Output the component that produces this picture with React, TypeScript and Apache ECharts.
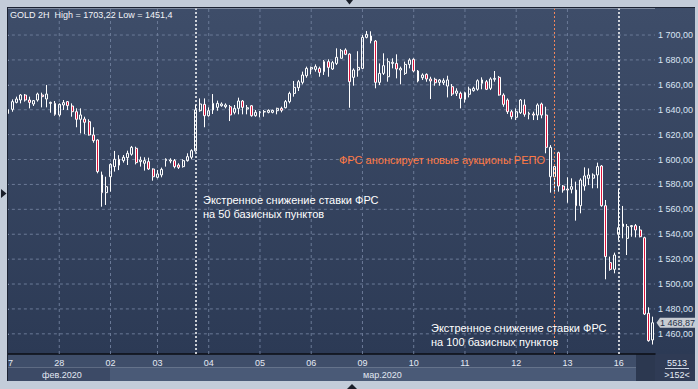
import React, { useEffect, useRef } from "react";
import * as echarts from "echarts";

// ---- data (GOLD, 2H candles) ----
const opens = [
  1637.0, 1640.3, 1645.9, 1647.8, 1651.8, 1647.8, 1644.6, 1647.8, 1651.8, 1648.6,
  1645.1, 1645.1, 1635.8, 1643.8, 1646.5, 1643.0, 1638.4, 1632.3, 1632.5, 1630.4,
  1619.7, 1615.7, 1587.6, 1573.4, 1586.2, 1594.3, 1600.2, 1599.1, 1601.5, 1604.2,
  1609.0, 1598.3, 1597.0, 1598.3, 1592.4, 1585.7, 1587.6, 1599.1, 1598.8, 1599.1,
  1595.6, 1594.3, 1599.1, 1601.8, 1606.9, 1639.2, 1644.3, 1635.2, 1639.8, 1641.9,
  1643.2, 1642.4, 1642.4, 1637.9, 1641.1, 1647.0, 1640.6, 1643.2, 1635.2, 1637.9,
  1638.2, 1637.9, 1637.9, 1639.2, 1641.1, 1641.6, 1646.5, 1653.1, 1657.7, 1662.0,
  1667.3, 1672.7, 1672.4, 1673.2, 1670.6, 1678.6, 1672.7, 1677.2, 1681.3, 1688.0,
  1684.7, 1666.0, 1671.9, 1673.2, 1698.1, 1699.2, 1695.2, 1662.0, 1669.2, 1666.5,
  1677.2, 1677.2, 1671.9, 1669.2, 1676.4, 1680.5, 1671.1, 1665.7, 1668.4, 1664.7,
  1664.4, 1662.0, 1661.7, 1659.0, 1658.5, 1653.2, 1653.2, 1648.3, 1652.4, 1655.3,
  1656.4, 1661.2, 1662.5, 1657.2, 1664.4, 1666.0, 1651.8, 1647.8, 1638.4, 1633.9,
  1637.6, 1643.8, 1636.3, 1636.6, 1635.7, 1644.6, 1635.7, 1586.2, 1586.2, 1605.5,
  1578.7, 1576.3, 1576.1, 1575.5, 1562.9, 1578.7, 1584.9, 1585.0, 1587.6, 1594.8,
  1562.9, 1517.2, 1511.8, 1539.9, 1546.1, 1536.7, 1546.1, 1546.9, 1543.4, 1537.2,
  1476.5, 1455.1,
];
const closes = [
  1640.0, 1646.5, 1648.6, 1651.8, 1647.8, 1645.9, 1647.3, 1652.6, 1650.5, 1652.6,
  1645.9, 1636.3, 1644.3, 1645.7, 1643.3, 1638.4, 1632.3, 1635.8, 1629.9, 1619.7,
  1615.2, 1590.3, 1573.4, 1578.2, 1596.1, 1600.2, 1595.5, 1601.8, 1605.0, 1609.8,
  1597.5, 1599.6, 1599.1, 1592.4, 1586.2, 1588.4, 1592.1, 1600.2, 1599.6, 1594.3,
  1593.7, 1599.1, 1602.3, 1607.1, 1639.8, 1644.6, 1635.2, 1639.2, 1645.1, 1645.1,
  1644.6, 1643.8, 1635.8, 1641.1, 1647.0, 1641.9, 1641.6, 1635.2, 1637.9, 1638.2,
  1638.5, 1639.5, 1639.5, 1641.1, 1639.5, 1646.5, 1653.1, 1658.0, 1662.5, 1667.9,
  1673.2, 1674.0, 1674.6, 1670.0, 1678.6, 1674.0, 1677.8, 1682.1, 1687.4, 1684.5,
  1662.5, 1671.9, 1674.0, 1698.1, 1700.5, 1695.4, 1662.0, 1669.2, 1675.4, 1678.6,
  1678.1, 1672.7, 1673.2, 1676.4, 1679.9, 1671.1, 1663.1, 1667.9, 1664.7, 1663.1,
  1661.7, 1663.9, 1663.3, 1663.9, 1652.6, 1655.0, 1649.1, 1653.7, 1656.6, 1657.2,
  1663.3, 1663.9, 1656.4, 1664.7, 1665.2, 1651.8, 1644.3, 1638.4, 1634.4, 1638.4,
  1647.8, 1636.3, 1637.1, 1635.7, 1643.8, 1635.7, 1609.8, 1609.8, 1594.3, 1578.7,
  1575.5, 1575.5, 1578.2, 1562.9, 1583.5, 1586.8, 1587.6, 1587.6, 1594.3, 1562.9,
  1522.0, 1511.8, 1523.3, 1545.3, 1548.2, 1546.1, 1546.9, 1543.4, 1538.0, 1475.9,
  1454.5, 1468.87,
];
const lows = [
  1636.0, 1638.4, 1645.1, 1645.1, 1646.5, 1641.1, 1643.0, 1646.5, 1641.9, 1641.9,
  1637.6, 1635.2, 1634.4, 1639.8, 1639.8, 1634.4, 1625.9, 1621.0, 1620.5, 1619.2,
  1613.5, 1588.9, 1562.1, 1563.5, 1574.2, 1590.3, 1591.5, 1597.5, 1595.6, 1603.1,
  1596.1, 1594.3, 1591.1, 1591.6, 1583.0, 1584.9, 1585.7, 1594.3, 1597.0, 1592.9,
  1592.4, 1593.5, 1598.3, 1600.2, 1606.3, 1638.4, 1625.9, 1634.4, 1636.6, 1639.2,
  1642.4, 1641.1, 1630.9, 1636.3, 1636.3, 1636.3, 1636.3, 1634.4, 1634.4, 1633.9,
  1634.4, 1637.1, 1637.1, 1636.3, 1637.9, 1641.1, 1645.1, 1650.5, 1655.0, 1660.4,
  1665.7, 1668.4, 1670.6, 1666.5, 1667.9, 1666.5, 1671.9, 1675.9, 1681.3, 1683.9,
  1641.6, 1659.3, 1666.5, 1672.7, 1697.3, 1693.3, 1657.2, 1659.8, 1667.9, 1662.5,
  1673.2, 1665.2, 1660.4, 1667.9, 1673.2, 1670.0, 1662.0, 1663.9, 1662.5, 1648.6,
  1659.3, 1659.3, 1659.8, 1649.9, 1651.0, 1651.0, 1641.1, 1645.7, 1649.9, 1654.5,
  1655.3, 1656.4, 1655.8, 1655.8, 1662.5, 1651.3, 1642.4, 1636.6, 1632.3, 1631.7,
  1636.6, 1634.4, 1632.3, 1631.7, 1631.7, 1633.1, 1605.0, 1573.4, 1574.2, 1574.2,
  1573.4, 1565.3, 1572.8, 1550.9, 1556.8, 1575.0, 1579.5, 1576.9, 1576.9, 1562.1,
  1503.8, 1510.7, 1508.6, 1535.4, 1536.7, 1523.3, 1538.0, 1537.5, 1537.5, 1475.1,
  1453.7, 1451.4,
];
const highs = [
  1642.0, 1648.3, 1650.5, 1652.6, 1652.6, 1650.5, 1647.8, 1653.7, 1653.7, 1659.9,
  1646.5, 1647.0, 1645.1, 1647.8, 1647.0, 1645.1, 1641.1, 1641.1, 1634.4, 1632.3,
  1625.9, 1616.2, 1590.3, 1586.2, 1597.0, 1606.9, 1603.5, 1603.6, 1607.1, 1610.9,
  1610.3, 1602.3, 1601.8, 1601.5, 1592.9, 1591.6, 1593.5, 1601.0, 1601.0, 1600.4,
  1597.0, 1600.2, 1605.0, 1608.2, 1643.8, 1649.1, 1649.1, 1641.9, 1652.6, 1647.3,
  1645.9, 1645.1, 1643.8, 1643.8, 1649.7, 1647.8, 1643.8, 1643.8, 1639.8, 1639.0,
  1639.8, 1640.3, 1640.0, 1641.6, 1642.4, 1647.8, 1654.5, 1663.1, 1663.9, 1670.6,
  1674.6, 1674.6, 1676.4, 1674.6, 1679.9, 1680.5, 1679.1, 1689.3, 1688.8, 1689.3,
  1685.3, 1673.2, 1687.0, 1700.0, 1703.2, 1703.0, 1696.0, 1677.2, 1685.3, 1681.3,
  1681.3, 1684.5, 1674.6, 1678.6, 1681.3, 1681.3, 1671.9, 1669.2, 1669.2, 1666.5,
  1665.7, 1664.7, 1665.2, 1667.3, 1660.6, 1657.2, 1654.5, 1654.5, 1658.5, 1658.5,
  1664.4, 1666.0, 1663.9, 1666.0, 1671.1, 1667.1, 1653.2, 1649.1, 1639.8, 1641.1,
  1648.6, 1648.3, 1638.4, 1638.4, 1645.1, 1645.7, 1642.4, 1611.6, 1595.6, 1606.3,
  1579.5, 1585.7, 1584.9, 1582.2, 1584.9, 1593.7, 1592.9, 1588.9, 1597.5, 1595.6,
  1567.5, 1522.0, 1525.2, 1576.1, 1562.7, 1548.2, 1547.4, 1548.2, 1546.6, 1538.0,
  1481.3, 1473.8,
];

const dayStartIndex = [0, 12, 24, 35, 47, 59, 71, 83, 95, 107, 119, 131, 143];
const dayLabels = ["27", "28", "02", "03", "04", "05", "06", "09", "10", "11", "12", "13", "16"];
const priceTicks = [1460, 1480, 1500, 1520, 1540, 1560, 1580, 1600, 1620, 1640, 1660, 1680, 1700];
const monthLabels = ["фев.2020", "мар.2020"];
const eventWhiteIndex = [44, 143];
const eventOrangeIndex = [128];
const lastPrice = 1468.87;
const yMin = 1443.8;
const yMax = 1721.3;
const headerText = "GOLD 2H  High = 1703,22 Low = 1451,4";
const barCount = ">152<";
const volumeText = "5513";

const FONT = '"Liberation Sans", Arial, sans-serif';

const fmtPrice = (v: number) => {
  const s = v.toFixed(2);
  const [int, dec] = s.split(".");
  const th = int.length > 3 ? int.slice(0, int.length - 3) + " " + int.slice(-3) : int;
  return th + "," + dec;
};

const categories = opens.map((_, i) => String(i));
const candleData = opens.map((o, i) => [o, closes[i], lows[i], highs[i]]);

// grid lines: a line series per grid line (through the axes), dashed
const GRID_COLOR = "#6b7a97";
const whiteDot = { color: "#ffffff", width: 1.5, type: [2, 2], opacity: 1 };
const orangeDot = { color: "#f2875c", width: 1, type: [2, 2], opacity: 1 };

const FRAME = "#c3ccd9";

function buildGraphic(tipY: number | null) {
  const bgGrad = new echarts.graphic.LinearGradient(0, 0, 0, 1, [
    { offset: 0, color: "#3e4d69" },
    { offset: 1, color: "#2c3a55" },
  ]);
  const txt = (text: string, x: number, y: number, fill: string, fontSize: number, align = "left") => ({
    type: "text",
    z: 50,
    style: {
      text, x, y, fill, fontSize, fontFamily: FONT,
      align, textAlign: align, verticalAlign: "middle", textVerticalAlign: "middle",
    },
  });
  const g: any[] = [
    { type: "rect", z: -10, shape: { x: 655, y: 8, width: 40, height: 346 }, style: { fill: bgGrad } },
    { type: "rect", z: -10, shape: { x: 5, y: 354, width: 631, height: 13.5 }, style: { fill: "#3f4e6a" } },
    { type: "rect", z: -10, shape: { x: 5, y: 367.5, width: 105, height: 13.5 }, style: { fill: "#3c4a66" } },
    { type: "rect", z: -10, shape: { x: 110, y: 367.5, width: 526, height: 13.5 }, style: { fill: "#4a5a77" } },
    { type: "rect", z: -10, shape: { x: 636, y: 354, width: 19, height: 27 }, style: { fill: "#2c3850" } },
    { type: "rect", z: -10, shape: { x: 655, y: 354, width: 40, height: 27 }, style: { fill: "#2f3b55" } },
    txt(monthLabels[0], 42, 374.5, "#e2e8f2", 9),
    txt(monthLabels[1], 363, 374.5, "#e2e8f2", 9),
    txt(volumeText, 677, 362.5, "#e8eef8", 9, "center"),
    { type: "line", z: 50, shape: { x1: 665, y1: 368.5, x2: 689, y2: 368.5 }, style: { stroke: "#c9d2e0", lineWidth: 1 } },
    txt(barCount, 677, 374.5, "#e8eef8", 9, "center"),
    txt(headerText, 10, 15, "#f2f4f8", 9),
    txt("Экстренное снижение ставки ФРС", 203, 200, "#ffffff", 11),
    txt("на 50 базисных пунктов", 203, 214, "#ffffff", 11),
    txt("ФРС анонсирует новые аукционы РЕПО", 339, 160, "#ff7a45", 11),
    txt("Экстренное снижение ставки ФРС", 431, 328, "#ffffff", 11),
    txt("на 100 базисных пунктов", 431, 342, "#ffffff", 11),
    { type: "rect", z: 100, shape: { x: 0, y: 0, width: 7.5, height: 389 }, style: { fill: FRAME } },
    { type: "rect", z: 100, shape: { x: 0, y: 0, width: 698, height: 7.5 }, style: { fill: FRAME } },
    { type: "rect", z: 100, shape: { x: 695, y: 0, width: 3, height: 389 }, style: { fill: FRAME } },
    { type: "rect", z: 100, shape: { x: 0, y: 381, width: 698, height: 8 }, style: { fill: FRAME } },
    { type: "line", z: 101, shape: { x1: 7.5, y1: 7, x2: 7.5, y2: 381 }, style: { stroke: "#1c2333", lineWidth: 1 } },
    { type: "line", z: 101, shape: { x1: 7, y1: 7.5, x2: 695, y2: 7.5 }, style: { stroke: "#1c2333", lineWidth: 1 } },
    { type: "polygon", z: 102, shape: { points: [[346, 0], [353, 0], [349.5, 4.5]] }, style: { fill: "#1a1f2a" } },
    { type: "polygon", z: 102, shape: { points: [[1, 189], [1, 198], [6.5, 193.5]] }, style: { fill: "#1a1f2a" } },
    { type: "polygon", z: 102, shape: { points: [[347, 389], [357, 389], [352, 384]] }, style: { fill: "#1a1f2a" } },
  ];
  if (tipY !== null) {
    g.push({ type: "polygon", z: 60, shape: { points: [[656.5, tipY], [660, tipY - 5], [660, tipY + 5]] }, style: { fill: "#c8ccd3" } });
    g.push({ type: "rect", z: 60, shape: { x: 660, y: tipY - 5, width: 35, height: 10 }, style: { fill: "#c8ccd3" } });
    g.push({ ...txt(fmtPrice(lastPrice), 677.5, tipY + 0.5, "#24304a", 9, "center"), z: 61 });
  }
  return g;
}

export default function App() {
  const ref = useRef<HTMLDivElement>(null);
  useEffect(() => {
    if (!ref.current) return;
    const chart = echarts.init(ref.current, undefined, { renderer: "svg" });
    const bgGrad = new echarts.graphic.LinearGradient(0, 0, 0, 1, [
      { offset: 0, color: "#3e4d69" },
      { offset: 1, color: "#2c3a55" },
    ]);
    const n = categories.length;
    const vGrid = dayStartIndex.filter((i) => i > 0 && !eventWhiteIndex.includes(i));
    // horizontal grid lines as line series spanning the category range
    const hSeries = priceTicks.map((v) => ({
      type: "line",
      z: 2,
      silent: true,
      symbol: "none",
      showSymbol: false,
      xAxisIndex: 1,
      yAxisIndex: 0,
      data: [[0, v], [1, v]],
      lineStyle: { color: GRID_COLOR, width: 1, type: [3, 3] },
    }));
    const vSeries = vGrid.map((i) => ({
      type: "line",
      z: 2,
      silent: true,
      symbol: "none",
      showSymbol: false,
      xAxisIndex: 0,
      yAxisIndex: 0,
      data: [[String(i), yMin], [String(i), yMax]],
      lineStyle: { color: GRID_COLOR, width: 1, type: [3, 3] },
    }));
    const option: any = {
      animation: false,
      backgroundColor: FRAME,
      grid: {
        left: 5.87, right: 43, top: 8.5, bottom: 35, containLabel: false,
        show: true, backgroundColor: bgGrad, borderWidth: 0,
      },
      xAxis: [
        {
          type: "category",
          data: categories,
          boundaryGap: true,
          axisLine: { show: true, lineStyle: { color: "#0b0e14", width: 1.5 } },
          axisTick: { show: false },
          splitLine: { show: false },
          axisLabel: {
            interval: (i: number) => dayStartIndex.includes(i),
            formatter: (_v: string, i: number) => {
              const k = dayStartIndex.indexOf(i);
              return k >= 0 ? dayLabels[k] : "";
            },
            color: "#e4eaf4",
            fontSize: 9,
            fontFamily: FONT,
            margin: 4,
          },
        },
        {
          type: "value",
          min: 0,
          max: 1,
          show: false,
        },
      ],
      yAxis: {
        type: "value",
        position: "right",
        min: yMin,
        max: yMax,
        axisLine: { show: true, lineStyle: { color: "#0b0e14", width: 1.5 } },
        axisTick: { show: true, length: 3, customValues: priceTicks, lineStyle: { color: "#9fb0cc" } },
        splitLine: { show: false },
        axisLabel: {
          customValues: priceTicks,
          formatter: (v: number) => fmtPrice(v),
          color: "#dbe5f4",
          fontSize: 9,
          fontFamily: FONT,
          margin: 3,
        },
      },
      series: [
        ...hSeries,
        ...vSeries,
        {
          type: "candlestick",
          data: candleData,
          z: 3,
          barWidth: 2.4,
          itemStyle: {
            color: "rgba(0,0,0,0)",
            color0: "#dc143c",
            borderColor: "#ffffff",
            borderColor0: "#ffffff",
            borderWidth: 1,
          },
          markLine: {
            silent: true,
            symbol: ["none", "none"],
            label: { show: false },
            data: [
              ...eventWhiteIndex.map((i) => ({ xAxis: i, lineStyle: { ...whiteDot } })),
              ...eventOrangeIndex.map((i) => ({ xAxis: i, lineStyle: { ...orangeDot } })),
            ],
          },
        },
      ],
      graphic: buildGraphic(null),
    };
    chart.setOption(option);
    const tipY = chart.convertToPixel({ yAxisIndex: 0 }, lastPrice) as number;
    chart.setOption({ graphic: buildGraphic(tipY) }, { replaceMerge: ["graphic"] });
    return () => chart.dispose();
  }, []);
  return (
    <div
      ref={ref}
      style={{ position: "fixed", left: 0, top: 0, width: 698, height: 389 }}
    />
  );
}
